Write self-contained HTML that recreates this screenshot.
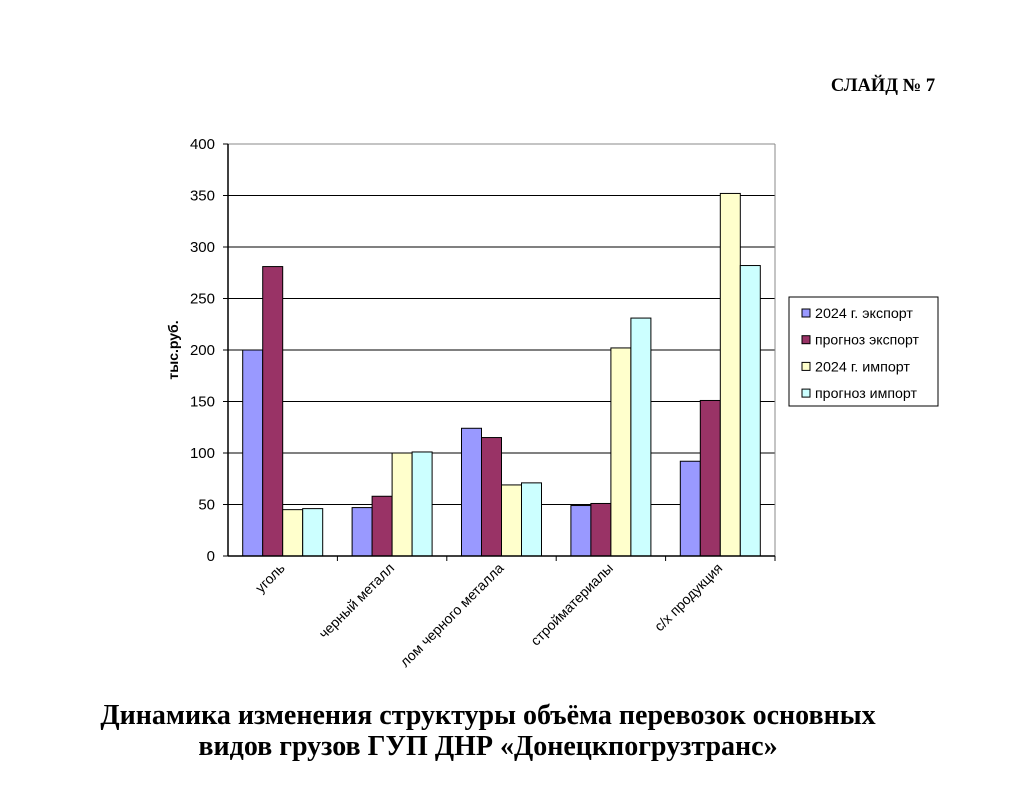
<!DOCTYPE html>
<html><head><meta charset="utf-8"><style>
body{margin:0;background:#fff;}
svg{display:block;font-family:"Liberation Sans",sans-serif;}
</style></head><body>
<svg id="c" width="1024" height="806" xmlns="http://www.w3.org/2000/svg">
<text x="883" y="91" font-family="Liberation Serif" font-weight="bold" font-size="18.5" text-anchor="middle">СЛАЙД № 7</text>
<text x="488" y="724" font-family="Liberation Serif" font-weight="bold" font-size="28" text-anchor="middle">Динамика изменения структуры объёма перевозок основных</text>
<text x="488" y="755" font-family="Liberation Serif" font-weight="bold" font-size="28" text-anchor="middle">видов грузов ГУП ДНР «Донецкпогрузтранс»</text>
<text transform="translate(178,350) rotate(-90)" font-size="14" font-weight="bold" text-anchor="middle">тыс.руб.</text>
<g id="g"></g>
</svg>
<script>
const categories=["уголь","черный металл","лом черного металла","стройматериалы","с/х продукция"];
const seriesNames=["2024 г. экспорт","прогноз экспорт","2024 г. импорт","прогноз импорт"];
const export2024=[200,47,124,49,92];
const exportForecast=[281,58,115,51,151];
const import2024=[45,100,69,202,352];
const importForecast=[46,101,71,231,282];
const yTicks=[0,50,100,150,200,250,300,350,400];
const series=[export2024,exportForecast,import2024,importForecast];
const colors=["#9999ff","#993366","#ffffcc","#ccffff"];
const NS="http://www.w3.org/2000/svg";
const g=document.getElementById('g');
const X0=228,X1=775,Y0=556,Y1=144,YMAX=400;
const gw=(X1-X0)/categories.length, bw=20, off=(gw-4*bw)/2;
const y=v=>Y0-(v/YMAX)*(Y0-Y1);
function mk(t,a){const e=document.createElementNS(NS,t);for(const k in a)e.setAttribute(k,a[k]);g.appendChild(e);return e;}
yTicks.forEach(v=>{
 if(v>0){const l=mk('line',{x1:X0,x2:X1,y1:y(v),y2:y(v),stroke:v==YMAX?'#888':'#000','stroke-width':1});
 
 }
 const tk=mk('line',{x1:X0-5,x2:X0,y1:y(v),y2:y(v),stroke:'#000'});
 
 
 const t=mk('text',{x:X0-13,y:y(v)+5,'font-size':15,'text-anchor':'end'});t.textContent=v;
 
 
});
const rb=mk('line',{x1:X1,x2:X1,y1:Y1,y2:Y0,stroke:'#888'});


series.forEach((s,si)=>s.forEach((v,ci)=>{
 const r=mk('rect',{x:X0+ci*gw+off+si*bw,y:y(v),width:bw,height:Y0-y(v),fill:colors[si],stroke:'#000','stroke-width':1});
 
 
}));
const ya=mk('line',{x1:X0,x2:X0,y1:Y1,y2:Y0,stroke:'#000','stroke-width':1.5});


const xa=mk('line',{x1:X0,x2:X1,y1:Y0,y2:Y0,stroke:'#000','stroke-width':1.5});


categories.forEach((c,i)=>{
 const tx=X0+(i+1)*gw;
 const tk=mk('line',{x1:tx,x2:tx,y1:Y0,y2:Y0+5,stroke:'#000'});
 
 
 const cx=X0+(i+0.5)*gw+3;
 const t=mk('text',{transform:`translate(${cx},569) rotate(-45)`,'font-size':14,'text-anchor':'end'});t.textContent=c;
 
 
});
const lg=mk('rect',{x:789,y:297,width:149,height:109,fill:'#fff',stroke:'#000','stroke-width':1});


const legendWidths=[98,104,95,102];
seriesNames.forEach((n,i)=>{
 const yy=313+i*26.7;
 const s=mk('rect',{x:802,y:yy-4,width:8,height:8,fill:colors[i],stroke:'#000'});
 
 
 const t=mk('text',{x:815,y:yy+5,'font-size':14,textLength:legendWidths[i],lengthAdjust:'spacingAndGlyphs'});t.textContent=n;
 
 
});
</script>
</body></html>
